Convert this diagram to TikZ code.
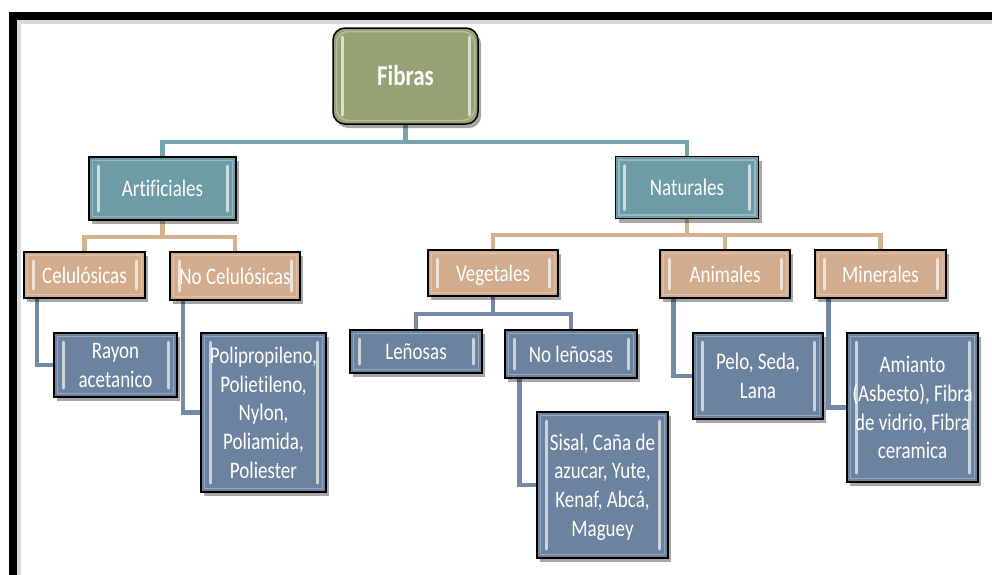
\documentclass[tikz,border=0pt]{standalone}
\usepackage{fontspec}
\setmainfont{Carlito}[Ligatures=CommonOff]
\usepackage{graphicx}
\usetikzlibrary{shadows,backgrounds,calc}
\definecolor{cOlive}{RGB}{150,161,116}
\definecolor{cTeal}{RGB}{109,155,166}
\definecolor{cTan}{RGB}{210,172,140}
\definecolor{cSlate}{RGB}{108,131,160}
\definecolor{lTeal}{RGB}{118,163,174}
\definecolor{lTan}{RGB}{214,177,142}
\definecolor{lSlate}{RGB}{114,138,168}
\newcommand\vs[1]{\raisebox{-2.5pt}[\height][\depth]{\scalebox{1}[1.25]{\begin{tabular}{@{}c@{}}#1\end{tabular}}}}
\tikzset{
  bevel/.style={path picture={
    \draw[white,opacity=.3,line width=1.5pt]
      ($(path picture bounding box.south west)+(3.5pt,3.5pt)$) rectangle
      ($(path picture bounding box.north east)+(-3.5pt,-3.5pt)$);
    \draw[white,opacity=.65,line width=3pt,line cap=round]
      ($(path picture bounding box.south west)+(9pt,9pt)$) --
      ($(path picture bounding box.north west)+(9pt,-9pt)$);
    \draw[white,opacity=.65,line width=3pt,line cap=round]
      ($(path picture bounding box.south east)+(-9pt,9pt)$) --
      ($(path picture bounding box.north east)+(-9pt,-9pt)$);
  }},
  box/.style={draw=black, line width=1.5pt, text=white, inner sep=0pt,
    font=\fontsize{19}{23}\selectfont,
    drop shadow={shadow xshift=3pt, shadow yshift=-4pt, opacity=.35, fill=black},
    bevel},
  midbox/.style={box, fill=cTeal},
  tanbox/.style={box, fill=cTan},
  leafbox/.style={box, fill=cSlate},
  tline/.style={draw=lTeal, line width=4.5pt},
  nline/.style={draw=lTan, line width=4.5pt},
  sline/.style={draw=lSlate, line width=4.5pt},
}
\begin{document}
\begin{tikzpicture}[x=1pt,y=-1pt]
\useasboundingbox (0,0) rectangle (992,574);
% frame
\draw[black!25, line width=4pt, opacity=.6] (19,600) -- (19,22) -- (1000,22);
\draw[black, line width=8pt] (12.5,600) -- (12.5,15.5) -- (1000,15.5);

% nodes
\node[box, fill=cOlive, rounded corners=12pt, minimum width=145pt, minimum height=96pt,
      font=\fontsize{23}{27}\selectfont\bfseries] (fib) at (405.5,76) {\vs{Fibras}};

\node[midbox, minimum width=147pt, minimum height=63pt] (art) at (162.5,188.5) {\vs{Artificiales}};
\node[midbox, minimum width=143pt, minimum height=62pt] (nat) at (687,187.5) {\vs{Naturales}};

\node[tanbox, minimum width=121pt, minimum height=46pt] (cel) at (84.5,275) {\vs{Celulósicas}};
\node[tanbox, minimum width=130pt, minimum height=48pt] (ncel) at (235,276) {\vs{No Celulósicas}};
\node[tanbox, minimum width=130pt, minimum height=46pt] (veg) at (493,273) {\vs{Vegetales}};
\node[tanbox, minimum width=130pt, minimum height=48pt] (ani) at (725,274) {\vs{Animales}};
\node[tanbox, minimum width=131pt, minimum height=48pt] (min) at (880.5,274) {\vs{Minerales}};

\node[leafbox, minimum width=132pt, minimum height=43pt] (len) at (416,351.5) {\vs{Leñosas}};
\node[leafbox, minimum width=132pt, minimum height=48pt] (nlen) at (571,354) {\vs{No leñosas}};

\node[leafbox, minimum width=123pt, minimum height=64pt] (ray) at (115.5,365) {\vs{Rayon\\acetanico}};
\node[leafbox, minimum width=125pt, minimum height=159pt] (pol) at (263.5,412.5) {\vs{Polipropileno,\\Polietileno,\\Nylon,\\Poliamida,\\Poliester}};
\node[leafbox, minimum width=131pt, minimum height=146pt] (sis) at (602.5,485) {\vs{Sisal, Caña de\\azucar, Yute,\\Kenaf, Abcá,\\Maguey}};
\node[leafbox, minimum width=130pt, minimum height=86pt] (pel) at (758,376) {\vs{Pelo, Seda,\\Lana}};
\node[leafbox, minimum width=131pt, minimum height=149pt] (ami) at (912.5,407.5) {\vs{Amianto\\(Asbesto), Fibra\\de vidrio, Fibra\\ceramica}};

% connectors
\begin{scope}[on background layer]
\coordinate (j1) at (405.5,142);
\draw[tline] (fib.south) -- (j1) -| (art.north);
\draw[tline] (j1) -| (nat.north);

\coordinate (j2) at (162.5,237);
\draw[nline] (art.south) -- (j2) -| (cel.north);
\draw[nline] (j2) -| (ncel.north);

\coordinate (j3) at (687,235);
\draw[nline] (nat.south) -- (j3) -| (veg.north);
\draw[nline] (j3) -| (ani.north);
\draw[nline] (j3) -| (min.north);

\coordinate (j4) at (493,314);
\draw[sline] (veg.south) -- (j4) -| (len.north);
\draw[sline] (j4) -| (nlen.north);

\draw[sline] ($(cel.south west)+(13.5pt,0)$) |- (ray.west);
\draw[sline] ($(ncel.south west)+(13.5pt,0)$) |- (pol.west);
\draw[sline] ($(nlen.south west)+(15pt,0)$) |- (sis.west);
\draw[sline] ($(ani.south west)+(14pt,0)$) |- (pel.west);
\draw[sline] ($(min.south west)+(14pt,0)$) |- (ami.west);
\end{scope}
\end{tikzpicture}
\end{document}
